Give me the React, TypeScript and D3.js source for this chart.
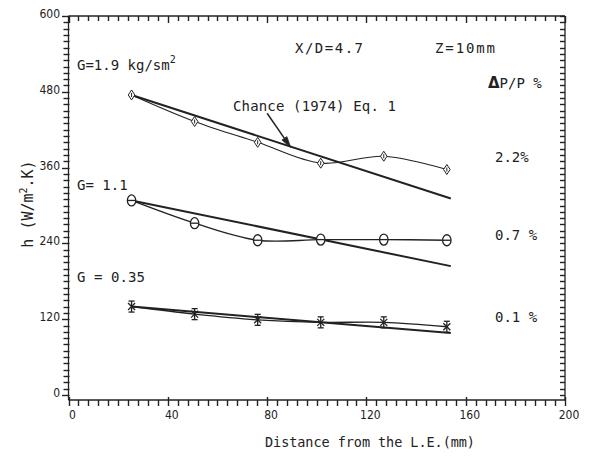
import React from "react";
import * as d3 from "d3";

// ---- data ----
const xPos = [25.4, 50.8, 76.2, 101.6, 127, 152.4]; // mm
const hG19 = [475, 433, 400, 367, 378, 357];
const hG11 = [308, 272, 245, 246, 246, 245];
const hG035 = [140, 128, 119, 115, 115, 108];
const chanceX = [25.4, 154];
const chanceG19 = [475, 311];
const chanceG11 = [308, 204];
const chanceG035 = [140, 98];
const xTicks = [0, 40, 80, 120, 160, 200];
const yTicks = [0, 120, 240, 360, 480, 600];
const seriesLabels = ["G=1.9 kg/sm", "G= 1.1", "G = 0.35"];
const dpLabels = ["2.2%", "0.7 %", "0.1 %"];

const INK = "#222";
const W = 589;
const H = 457;

const xs = d3.scaleLinear().domain([0, 200]).range([68.5, 565]);
const ys = d3.scaleLinear().domain([0, 600]).range([395, 16]);
const Y_BOTTOM = 400;
const Y_TOP = 16;

const curve = d3
  .line<[number, number]>()
  .x((d) => xs(d[0]))
  .y((d) => ys(d[1]))
  .curve(d3.curveCatmullRom.alpha(0.5));
const straight = d3
  .line<[number, number]>()
  .x((d) => xs(d[0]))
  .y((d) => ys(d[1]));

const zip = (a: number[], b: number[]) => a.map((v, i) => [v, b[i]] as [number, number]);

const Diamond = ({ x, y }: { x: number; y: number }) => (
  <g stroke={INK} strokeWidth={1} fill="white">
    <path d={`M${x},${y - 5} L${x + 3.3},${y} L${x},${y + 5} L${x - 3.3},${y} Z`} />
    <line x1={x} y1={y - 2} x2={x} y2={y + 2} />
  </g>
);
const Circ = ({ x, y }: { x: number; y: number }) => (
  <g stroke={INK} strokeWidth={1.3} fill="white">
    <ellipse cx={x} cy={y} rx={4.2} ry={5.5} />
    <line x1={x - 4} y1={y} x2={x + 4} y2={y} />
  </g>
);
const Star = ({ x, y }: { x: number; y: number }) => (
  <g stroke={INK} strokeWidth={1.3} fill="none">
    <line x1={x} y1={y - 5.5} x2={x} y2={y + 5.5} />
    <line x1={x - 3.5} y1={y - 3.5} x2={x + 3.5} y2={y + 3.5} />
    <line x1={x - 3.5} y1={y + 3.5} x2={x + 3.5} y2={y - 3.5} />
    <line x1={x - 3} y1={y - 5.5} x2={x + 3} y2={y - 5.5} />
    <line x1={x - 3} y1={y + 5.5} x2={x + 3} y2={y + 5.5} />
  </g>
);

const MONO = "'DejaVu Sans Mono', 'Liberation Mono', monospace";
const NARROW = "'Liberation Sans Narrow', 'DejaVu Sans Condensed', 'Liberation Sans', sans-serif";

export default function App() {
  const xMinor = d3.range(0, 201, 4);
  const yMinor = d3.range(0, 601, 10);
  const ax0 = 68.5;
  const ax1 = 565;

  // arrow annotation (data coords)
  const arrStart: [number, number] = [80, 446];
  const arrEnd: [number, number] = [89.5, 392];
  const sx = xs(arrStart[0]), sy = ys(arrStart[1]);
  const ex = xs(arrEnd[0]), ey = ys(arrEnd[1]);
  const ang = Math.atan2(ey - sy, ex - sx);
  const hl = 11, hw = 3;
  const bx = ex - hl * Math.cos(ang), by = ey - hl * Math.sin(ang);
  const head = `M${ex},${ey} L${bx + hw * Math.sin(ang)},${by - hw * Math.cos(ang)} L${bx - hw * Math.sin(ang)},${by + hw * Math.cos(ang)} Z`;

  return (
    <svg width={W} height={H} style={{ position: "absolute", left: 0, top: 0 }}>
      <rect x={0} y={0} width={W} height={H} fill="white" />

      {/* ticks */}
      {xMinor.map((v) => {
        const major = v % 40 === 0;
        const x = Math.round(xs(v)) + 0.5;
        return (
          <g key={"xt" + v}>
            <rect x={x - 0.7} y={Y_BOTTOM - (major ? 3 : 0)} width={1.4} height={major ? 9 : 6} fill={INK} />
            <rect x={x - 0.7} y={Y_TOP} width={1.4} height={major ? 7 : 5} fill={INK} />
          </g>
        );
      })}
      {yMinor.map((v) => {
        const major = v % 120 === 0;
        const y = Math.round(ys(v)) + 0.5;
        return (
          <g key={"yt" + v}>
            <rect x={major ? 62 : 63.5} y={y - 0.7} width={major ? 7.5 : 6} height={1.4} fill={INK} />
            <rect x={ax1 - 5} y={y - 0.7} width={5} height={1.4} fill={INK} />
          </g>
        );
      })}

      {/* chance lines */}
      <g stroke={INK} strokeWidth={2} fill="none">
        <path d={straight(zip(chanceX, chanceG19)) || ""} />
        <path d={straight(zip(chanceX, chanceG11)) || ""} />
        <path d={straight(zip(chanceX, chanceG035)) || ""} />
      </g>
      {/* data curves */}
      <g stroke={INK} strokeWidth={1.1} fill="none">
        <path d={curve(zip(xPos, hG19)) || ""} />
        <path d={curve(zip(xPos, hG11)) || ""} strokeWidth={1.4} />
        <path d={curve(zip(xPos, hG035)) || ""} strokeWidth={1.4} />
      </g>
      {xPos.map((x, i) => (
        <Diamond key={"d" + i} x={xs(x)} y={ys(hG19[i])} />
      ))}
      {xPos.map((x, i) => (
        <Circ key={"c" + i} x={xs(x)} y={ys(hG11[i])} />
      ))}
      {xPos.map((x, i) => (
        <Star key={"s" + i} x={xs(x)} y={ys(hG035[i])} />
      ))}

      {/* arrow */}
      <line x1={sx} y1={sy} x2={bx} y2={by} stroke={INK} strokeWidth={1.5} />
      <path d={head} fill={INK} stroke={INK} strokeWidth={0.8} />

      {/* frame */}
      <g stroke={INK} strokeWidth={1.3} fill="none">
        <line x1={ax0} y1={Y_TOP} x2={ax1} y2={Y_TOP} />
        <line x1={ax0} y1={Y_BOTTOM} x2={ax1} y2={Y_BOTTOM} />
        <line x1={ax0} y1={Y_TOP} x2={ax0} y2={Y_BOTTOM} />
        <line x1={ax1} y1={Y_TOP} x2={ax1} y2={Y_BOTTOM} />
      </g>

      {/* tick labels */}
      <g fill={INK} fontFamily={NARROW} fontSize={12}>
        {xTicks.map((v) => (
          <text key={"xl" + v} x={xs(v) + 4} y={419} textAnchor="middle">
            {v}
          </text>
        ))}
        {yTicks.map((v) => (
          <text key={"yl" + v} x={60} y={ys(v) + 2} textAnchor="end">
            {v}
          </text>
        ))}
      </g>
      {/* axis titles */}
      <text x={370} y={447} textAnchor="middle" fontFamily={MONO} fontSize={13.5} fill={INK} textLength={210}>
        Distance from the L.E.(mm)
      </text>
      <text transform="translate(33,204) rotate(-90)" textAnchor="middle" fontFamily={MONO} fontSize={15} fill={INK}>
        h (W/m<tspan dy={-6} fontSize={10}>2</tspan>
        <tspan dy={6}>.K)</tspan>
      </text>

      {/* annotations */}
      <g fill={INK} fontFamily={MONO} fontSize={14}>
        <text x={233} y={111} textLength={163}>Chance (1974) Eq. 1</text>
        <text x={77} y={70}>
          {seriesLabels[0]}
          <tspan dy={-7} fontSize={10}>2</tspan>
        </text>
        <text x={77} y={190}>{seriesLabels[1]}</text>
        <text x={77} y={282} textLength={68}>{seriesLabels[2]}</text>
        <text x={295} y={53} textLength={68}>X/D=4.7</text>
        <text x={435} y={53} textLength={60}>Z=10mm</text>
        <text x={488} y={88}>
          <tspan fontFamily="'DejaVu Sans', sans-serif" fontWeight="bold" fontSize={15}>Δ</tspan>P/P %
        </text>
        <text x={495} y={162}>{dpLabels[0]}</text>
        <text x={495} y={240}>{dpLabels[1]}</text>
        <text x={495} y={322}>{dpLabels[2]}</text>
      </g>
    </svg>
  );
}
